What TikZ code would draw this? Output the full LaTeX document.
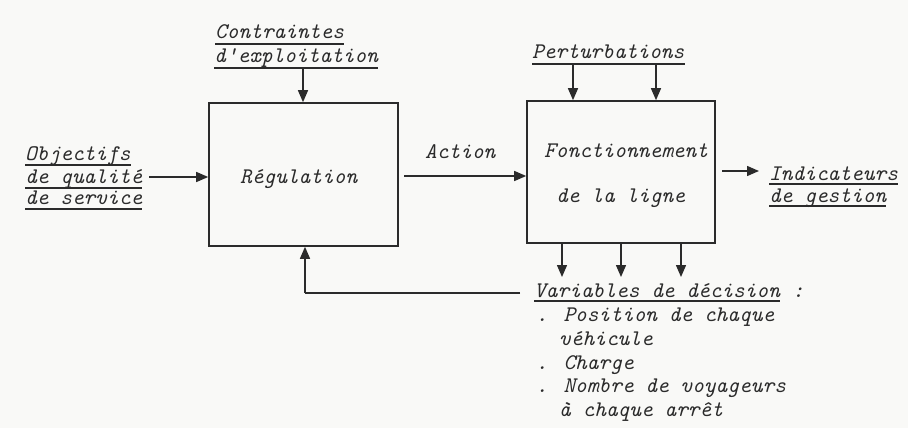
\documentclass[tikz,border=0pt]{standalone}
\usepackage{fontspec}
\usetikzlibrary{arrows.meta}
\definecolor{ink}{rgb}{0.17,0.17,0.17}
\definecolor{paper}{rgb}{0.975,0.975,0.97}
\tikzset{
  lbl/.style={font=\ttfamily\itshape\fontsize{22.3}{26}\selectfont, text=ink, inner sep=0pt, anchor=base west},
  blockbox/.style={draw=ink, line width=1.6pt, minimum width=#1, inner sep=0pt},
  arr/.style={draw=ink, line width=1.4pt, -{Triangle[length=12pt,width=10pt]}},
  plain/.style={draw=ink, line width=1.4pt},
  ul/.style={draw=ink, line width=1.1pt}
}
\begin{document}
\begin{tikzpicture}[x=1pt,y=-1pt]
\fill[paper] (0,0) rectangle (908,428);
\useasboundingbox (0,0) rectangle (908,428);

% boxes
\node[blockbox=189pt, minimum height=143pt] (reg) at (303.5,174.5) {};
\node[blockbox=188pt, minimum height=142pt] (fon) at (621,172) {};

% box texts
\node[lbl] (regt) at (240,183) {Régulation};
\node[lbl] (font1) at (544,157) {Fonctionnement};
\node[lbl] (font2) at (556,202) {de la ligne};

% Contraintes
\node[lbl] (c1) at (215,39) {Contraintes};
\node[lbl] (c2) at (214,63) {d'exploitation};
\draw[ul] ([yshift=-5pt]c1.base west) -- ([yshift=-5pt]c1.base east);
\draw[ul] ([yshift=-5pt]c2.base west) -- ([yshift=-5pt]c2.base east);
\coordinate (cin) at (303,68);
\draw[arr] (cin) -- (cin |- reg.north);

% Objectifs
\node[lbl] (o1) at (25,160) {Objectifs};
\node[lbl] (o2) at (25,183) {de qualité};
\node[lbl] (o3) at (25,204) {de service};
\draw[ul] ([yshift=-5pt]o1.base west) -- ([yshift=-5pt]o1.base east);
\draw[ul] ([yshift=-5pt]o2.base west) -- ([yshift=-5pt]o2.base east);
\draw[ul] ([yshift=-5pt]o3.base west) -- ([yshift=-5pt]o3.base east);
\coordinate (oin) at (149,177);
\draw[arr] (oin) -- (oin -| reg.west);

% Action
\node[lbl] (act) at (425,158) {Action};
\coordinate (aout) at (404,176);
\draw[arr] (aout) -- (aout -| fon.west);

% Perturbations
\node[lbl] (pert) at (532,59) {Perturbations};
\draw[ul] ([yshift=-5pt]pert.base west) -- ([yshift=-5pt]pert.base east);
\coordinate (p1) at (573,65);
\coordinate (p2) at (656,65);
\draw[arr] (p1) -- (p1 |- fon.north);
\draw[arr] (p2) -- (p2 |- fon.north);

% Indicateurs
\node[lbl] (i1) at (769,180) {Indicateurs};
\node[lbl] (i2) at (769,202) {de gestion};
\draw[ul] ([yshift=-4pt]i1.base west) -- ([yshift=-4pt]i1.base east);
\draw[ul] ([yshift=-4pt]i2.base west) -- ([yshift=-4pt]i2.base east);
\coordinate (iout) at (722,171);
\coordinate (iend) at (759,171);
\draw[arr] (iout) -- (iend);

% outputs to variables
\coordinate (d1) at (562,277);
\coordinate (d2) at (621,277);
\coordinate (d3) at (681,277);
\draw[arr] (d1 |- fon.south) -- (d1);
\draw[arr] (d2 |- fon.south) -- (d2);
\draw[arr] (d3 |- fon.south) -- (d3);

% Variables
\node[lbl] (var) at (534,297) {Variables de décision};
\node[lbl, xshift=12pt] (col) at (var.base east) {:};
\draw[ul] ([yshift=-4pt]var.base west) -- ([yshift=-4pt]var.base east);
\node[lbl] (v1) at (536,321) {. Position de chaque};
\node[lbl] (v2) at (559,345) {véhicule};
\node[lbl] (v3) at (536,369) {. Charge};
\node[lbl] (v4) at (536,392) {. Nombre de voyageurs};
\node[lbl] (v5) at (559,416) {à chaque arrêt};

% feedback
\coordinate (fb) at (520,293);
\coordinate (fbc) at (305,293);
\draw[plain] (fb) -- (fbc);
\draw[arr] (fbc) -- (fbc |- reg.south);
\end{tikzpicture}
\end{document}
